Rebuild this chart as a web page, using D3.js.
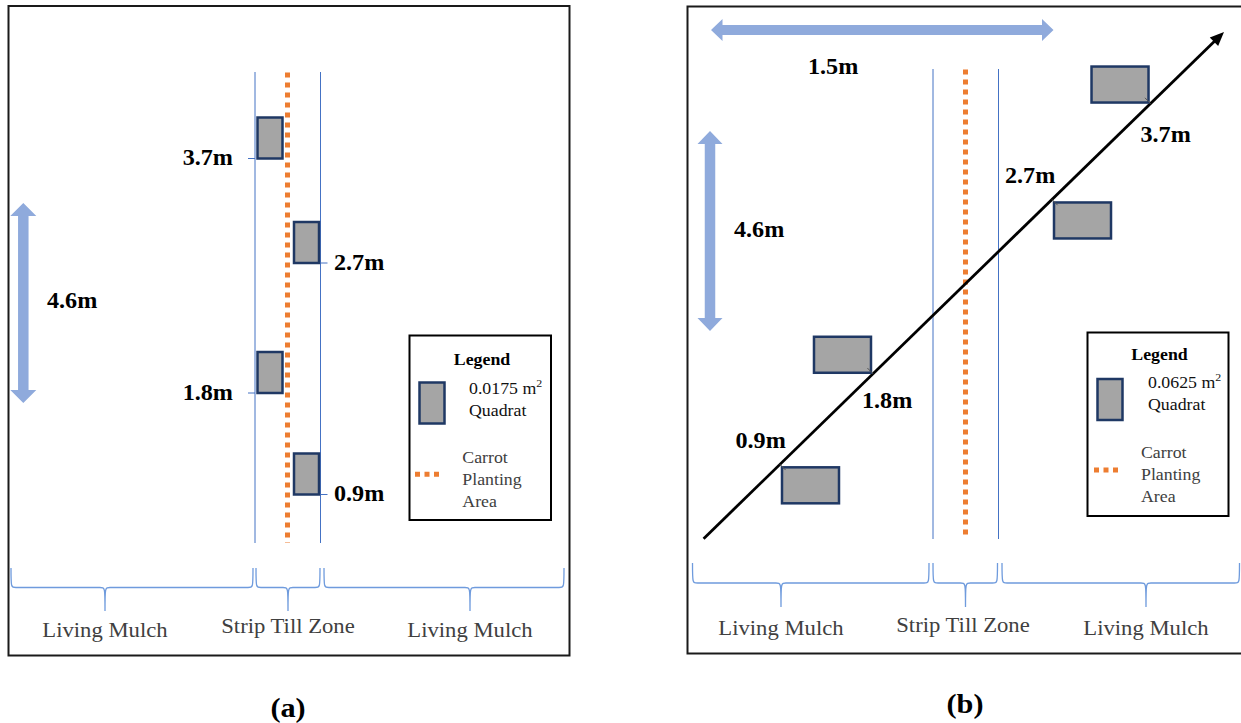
<!DOCTYPE html>
<html>
<head>
<meta charset="utf-8">
<script src="https://cdn.jsdelivr.net/npm/d3@7"></script>
<style>
  html, body { margin: 0; padding: 0; background: #fff; }
  svg { display: block; }
  text { font-family: "Liberation Serif", "Times New Roman", serif; }
</style>
</head>
<body>
<svg id="chart" width="1241" height="723"></svg>
<script>
// ---------------- data ----------------
const panelLabels = ["(a)", "(b)"];
const zoneLabels = ["Living Mulch", "Strip Till Zone", "Living Mulch"];
const distances = [0.9, 1.8, 2.7, 3.7];
const distanceLabels = ["0.9m", "1.8m", "2.7m", "3.7m"];
const quadratAreas = ["0.0175", "0.0625"];
const plotLengthLabel = "4.6m";
const plotWidthLabel = "1.5m";
const legendTitle = "Legend";
const legendQuadrat = ["m", "2", "Quadrat"];
const legendCarrot = ["Carrot", "Planting", "Area"];

// ---------------- layout ----------------
const C = {
  blueArrow: "#8FAADC", strip: "#4472C4", brace: "#6F9BDD", orange: "#ED7D31",
  qFill: "#A5A5A5", qStroke: "#1F3864", text: "#000", gray: "#404040"
};
const svg = d3.select("#chart");

function txt(g, x, y, s, o = {}) {
  const t = g.append("text")
    .attr("transform", `translate(${x},${y}) scale(${o.sx ?? 1.08},1)`)
    .attr("text-anchor", o.anchor || "start")
    .attr("font-size", o.size || 22)
    .attr("font-weight", o.weight || "normal")
    .attr("fill", o.fill || C.text)
    .text(s);
  return t;
}
function doubleArrow(g, x1, y1, x2, y2, shaft, headW, headL) {
  const dx = x2 - x1, dy = y2 - y1, len = Math.hypot(dx, dy);
  const ux = dx / len, uy = dy / len, nx = -uy, ny = ux;
  const P = (a, b) => [x1 + ux * a + nx * b, y1 + uy * a + ny * b];
  const pts = [P(0, 0), P(headL, headW / 2), P(headL, shaft / 2), P(len - headL, shaft / 2),
    P(len - headL, headW / 2), P(len, 0), P(len - headL, -headW / 2), P(len - headL, -shaft / 2),
    P(headL, -shaft / 2), P(headL, -headW / 2)];
  g.append("path").attr("d", d3.line()(pts) + "Z").attr("fill", C.blueArrow);
}
function brace(g, x0, x1, xc, yTop, yMid, yTip) {
  const r = 5;
  const d = `M${x0},${yTop} C${x0},${yMid} ${x0},${yMid} ${x0 + r},${yMid} L${xc - r},${yMid} ` +
    `C${xc},${yMid} ${xc},${yMid} ${xc},${yTip} C${xc},${yMid} ${xc},${yMid} ${xc + r},${yMid} ` +
    `L${x1 - r},${yMid} C${x1},${yMid} ${x1},${yMid} ${x1},${yTop}`;
  g.append("path").attr("d", d).attr("fill", "none").attr("stroke", C.brace).attr("stroke-width", 1.3);
}
function stripZone(g, xl, xr, xd, y0, y1, yd1) {
  [xl, xr].forEach(x => g.append("line").attr("x1", x).attr("x2", x).attr("y1", y0).attr("y2", y1)
    .attr("stroke", C.strip).attr("stroke-width", 1));
  g.append("line").attr("x1", xd).attr("x2", xd).attr("y1", y0 + 0.5).attr("y2", yd1)
    .attr("stroke", C.orange).attr("stroke-width", 5).attr("stroke-dasharray", "5,5");
}
function quad(g, x, y, w, h) {
  g.append("rect").attr("x", x).attr("y", y).attr("width", w).attr("height", h)
    .attr("fill", C.qFill).attr("stroke", C.qStroke).attr("stroke-width", 2.5);
}
function legend(g, L, area) {
  g.append("rect").attr("x", L.x0).attr("y", L.y0).attr("width", L.x1 - L.x0).attr("height", L.y1 - L.y0)
    .attr("fill", "#fff").attr("stroke", "#000").attr("stroke-width", 2);
  txt(g, L.tx, L.ty, legendTitle, { size: 16.5, weight: "bold", anchor: "middle" });
  quad(g, L.qx, L.qy, 25, 41);
  const t = txt(g, L.ax, L.ay, area + " " + legendQuadrat[0], { size: 16.5, fill: "#111" });
  t.append("tspan").attr("dy", -7).attr("font-size", 11).text(legendQuadrat[1]);
  txt(g, L.ax, L.ay + 22, legendQuadrat[2], { size: 16.5, fill: "#111" });
  g.append("line").attr("x1", L.ox).attr("x2", L.ox + 26).attr("y1", L.oy).attr("y2", L.oy)
    .attr("stroke", C.orange).attr("stroke-width", 5).attr("stroke-dasharray", "5,4.5");
  legendCarrot.forEach((s, i) => txt(g, L.cx, L.cy + i * 22, s, { size: 16.5, fill: C.gray }));
}

// ================= Panel (a) =================
const ga = svg.append("g");
ga.append("rect").attr("x", 8.5).attr("y", 6).attr("width", 561).attr("height", 649.5)
  .attr("fill", "none").attr("stroke", "#1a1a1a").attr("stroke-width", 2);
stripZone(ga, 255, 320.5, 287.5, 72, 543, 543);
doubleArrow(ga, 23.3, 203, 23.3, 403, 10.5, 26, 13);
txt(ga, 47, 308, plotLengthLabel, { size: 23, weight: "bold", sx: 1.05 });

const yA = d3.scaleLinear().domain(distances).range([494.5, 393, 263, 158.5]);
distances.forEach((d, i) => {
  const right = i % 2 === 0;
  const y = yA(d);
  quad(ga, right ? 294 : 257.5, y - 41, 25, 41);
  ga.append("line").attr("x1", right ? 320.5 : 248).attr("x2", right ? 327.5 : 255)
    .attr("y1", y).attr("y2", y).attr("stroke", C.strip).attr("stroke-width", 1);
  txt(ga, right ? 334 : 233, y + 6.5, distanceLabels[i], { size: 23, weight: "bold", sx: 1.05, anchor: right ? "start" : "end" });
});

const braceA = [[11, 253, 105], [256, 320, 288], [324, 564, 470]];
braceA.forEach(b => brace(ga, b[0], b[1], b[2], 568, 587.5, 611));
const zoneA = [[105, 637], [288, 633], [470, 637]];
zoneLabels.forEach((s, i) => txt(ga, zoneA[i][0], zoneA[i][1], s,
  { size: 21, anchor: "middle", fill: C.gray, sx: 1.08 }));

legend(ga, { x0: 409.5, y0: 335.5, x1: 551, y1: 520, tx: 482, ty: 365, qx: 419.5, qy: 382.5,
  ax: 469, ay: 394, ox: 415, oy: 474.3, cx: 462.3, cy: 463 }, quadratAreas[0]);
txt(ga, 288, 717, panelLabels[0], { size: 28, weight: "bold", anchor: "middle" });

// ================= Panel (b) =================
const gb = svg.append("g");
gb.append("rect").attr("x", 687.5).attr("y", 6.5).attr("width", 560).attr("height", 647)
  .attr("fill", "none").attr("stroke", "#1a1a1a").attr("stroke-width", 2);
stripZone(gb, 933, 998.5, 965.5, 69, 539, 539);
doubleArrow(gb, 711, 30, 1053.5, 30, 10, 22, 11.5);
txt(gb, 808, 74, plotWidthLabel, { size: 23, weight: "bold", sx: 1.05 });
doubleArrow(gb, 710, 131, 710, 331, 10.5, 25, 13);
txt(gb, 734, 237, plotLengthLabel, { size: 23, weight: "bold", sx: 1.05 });

// diagonal transect
const P0 = [703.6, 538.7], P1 = [1224, 32];
const len = Math.hypot(P1[0] - P0[0], P1[1] - P0[1]);
const ux = (P1[0] - P0[0]) / len, uy = (P1[1] - P0[1]) / len;
const nx = -uy, ny = ux; // normal
gb.append("line").attr("x1", P0[0]).attr("y1", P0[1])
  .attr("x2", P1[0] - ux * 10).attr("y2", P1[1] - uy * 10)
  .attr("stroke", "#000").attr("stroke-width", 2.8);
const hb = [P1[0] - ux * 14, P1[1] - uy * 14];
gb.append("path").attr("d", d3.line()([P1, [hb[0] + nx * 6, hb[1] + ny * 6], [hb[0] - nx * 6, hb[1] - ny * 6]]) + "Z")
  .attr("fill", "#000");

const tB = d3.scaleLinear().domain(distances).range([0.1468, 0.3255, 0.6695, 0.8588]);
const labB = [[735.5, 448], [862, 408], [1005, 183], [1140.5, 142]];
distances.forEach((d, i) => {
  const lower = i % 2 === 0;
  const t = tB(d);
  const px = P0[0] + (P1[0] - P0[0]) * t, py = P0[1] + (P1[1] - P0[1]) * t;
  if (lower) quad(gb, px + 2, py + 3, 57, 36);
  else quad(gb, px - 59, py - 37, 57, 36);
  const s = lower ? 1 : -1; // tick toward label side
  gb.append("line").attr("x1", px).attr("y1", py)
    .attr("x2", px + nx * 8 * s).attr("y2", py + ny * 8 * s)
    .attr("stroke", "#555").attr("stroke-width", 1);
  txt(gb, labB[i][0], labB[i][1], distanceLabels[i], { size: 23, weight: "bold", sx: 1.05 });
});

const braceB = [[692.5, 929, 781], [933, 997.5, 965.5], [1002, 1239.5, 1146]];
braceB.forEach(b => brace(gb, b[0], b[1], b[2], 563, 583, 607));
const zoneB = [[781, 635], [963, 632], [1146, 635]];
zoneLabels.forEach((s, i) => txt(gb, zoneB[i][0], zoneB[i][1], s,
  { size: 21, anchor: "middle", fill: C.gray, sx: 1.08 }));

legend(gb, { x0: 1087.5, y0: 332.5, x1: 1228.5, y1: 516, tx: 1159.5, ty: 360, qx: 1097.5, qy: 379,
  ax: 1148, ay: 388, ox: 1094, oy: 470, cx: 1141, cy: 458 }, quadratAreas[1]);
txt(gb, 965, 713, panelLabels[1], { size: 28, weight: "bold", anchor: "middle" });
</script>
</body>
</html>
